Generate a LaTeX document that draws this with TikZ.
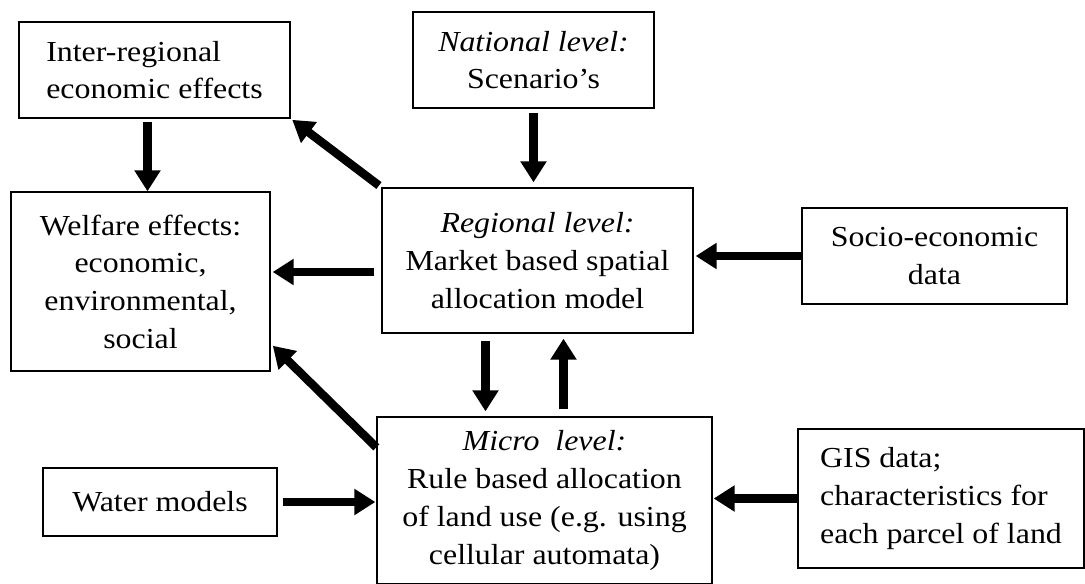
\documentclass[tikz,border=0pt]{standalone}
\usepackage{fontspec}
\setmainfont{Liberation Serif}[FakeStretch=1.1]
\usetikzlibrary{arrows.meta}
\begin{document}
\begin{tikzpicture}[x=1pt,y=-1pt,
    box/.style={draw,line width=1.3pt,inner sep=0pt,align=center,
      font=\fontsize{29}{37.7}\selectfont},
    flow/.style={line width=8.5pt,-{Triangle[width=25pt,length=21pt]}}]
  \useasboundingbox (0,0) rectangle (1085,584);
  \draw
    (154.5,70) node[box,align=left,minimum width=271pt,minimum height=96pt] (inter){Inter-regional\\economic effects}
    (533.5,60) node[box,minimum width=241pt,minimum height=96pt] (national){\textit{National level:}\\Scenario’s}
    (140.5,281.5) node[box,minimum width=259pt,minimum height=179pt] (welfare){Welfare effects:\\economic,\\environmental,\\social}
    (537.5,260.5) node[box,minimum width=311pt,minimum height=145pt] (regional){\textit{Regional level:}\\Market based spatial\\allocation model}
    (934.5,256) node[box,minimum width=265pt,minimum height=96pt] (socio){Socio-economic\\data}
    (544.5,500.5) node[box,minimum width=335pt,minimum height=167pt] (micro){\textit{Micro\ \ level:}\\Rule based allocation\\of land use (e.g. using\\cellular automata)}
    (160,502) node[box,minimum width=234pt,minimum height=68pt] (water){Water models}
    (941,498.5) node[box,align=left,minimum width=286pt,minimum height=139pt] (gis){GIS data;\\characteristics for\\each parcel of land};
  \begin{scope}[flow]
    \draw[shorten <=3pt] ([xshift=-7pt]inter.south) -- ([xshift=-7pt]inter.south |- welfare.north);
    \draw[shorten <=4pt,shorten >=5pt] (national.south) -- (national.south |- regional.north);
    \draw[shorten <=3pt,shorten >=2pt] (regional.north west) -- (inter.south east);
    \draw[shorten <=7pt,shorten >=2pt] ([yshift=-11.5pt]regional.west) -- ([yshift=-11.5pt]regional.west -| welfare.east);
    \draw[shorten >=2pt] (socio.west) -- (socio.west -| regional.east);
    \draw[shorten <=7pt,shorten >=5pt] ([xshift=-52pt]regional.south) -- ([xshift=-52pt]regional.south |- micro.north);
    \draw[shorten <=7pt,shorten >=5pt] ([xshift=26pt]regional.south |- micro.north) -- ([xshift=26pt]regional.south);
    \draw[shorten >=3pt] ([yshift=-31pt]micro.north west) -- ([yshift=28pt]welfare.south east);
    \draw[shorten <=5pt,shorten >=1pt] (water.east) -- (water.east -| micro.west);
    \draw[shorten >=1pt] (gis.west) -- (gis.west -| micro.east);
  \end{scope}
\end{tikzpicture}
\end{document}
